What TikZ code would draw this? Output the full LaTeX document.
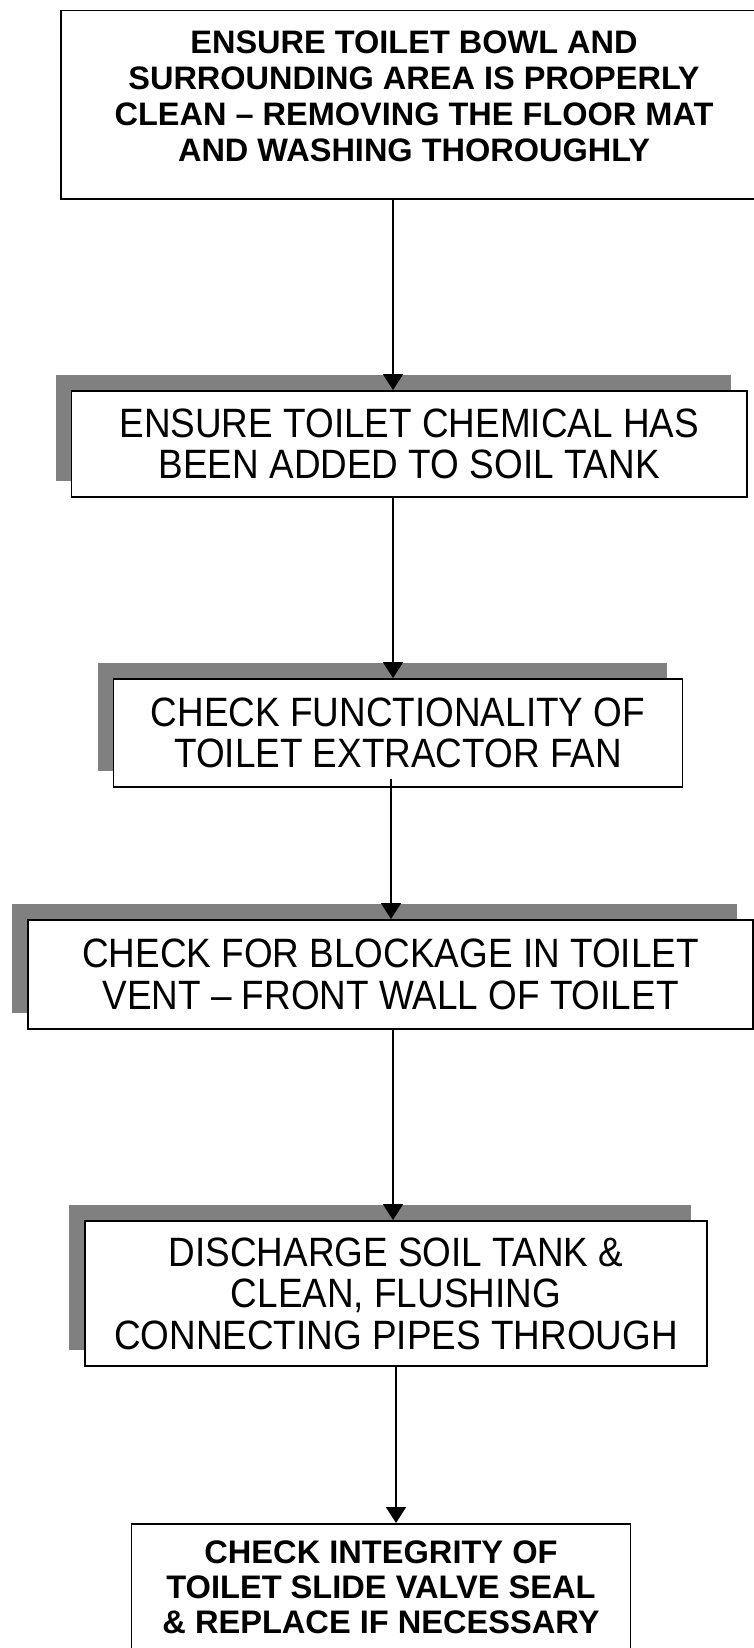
\documentclass[tikz,border=0pt]{standalone}
\usepackage{fontspec}
\setmainfont{Liberation Sans}
\newfontfamily\narrowfont[FakeStretch=0.9,Ligatures=TeX]{Liberation Sans}
\usetikzlibrary{arrows.meta,shadows}

\tikzset{
    stepbox/.style={draw, line width=1.8pt, fill=white, align=center, font=\narrowfont\fontsize{41}{41.5}\selectfont},
    boldbox/.style={stepbox, font=\bfseries\fontsize{32.5}{36}\selectfont},
    shadowbox/.style={general shadow={fill=black!50, shadow xshift=-16pt, shadow yshift=16pt}},
    flow/.style={-{Triangle[length=16pt,width=20pt]}, line width=1.8pt}
}

\begin{document}
\begin{tikzpicture}[x=1pt, y=-1pt]
    \useasboundingbox (0,0) rectangle (754,1648);
    \clip (0,0) rectangle (754,1648);

    \node[boldbox, minimum width=706pt, minimum height=188.5pt] (1) at (414, 104.75) {ENSURE TOILET BOWL AND\\SURROUNDING AREA IS PROPERLY\\CLEAN – REMOVING THE FLOOR MAT\\AND WASHING THOROUGHLY\rule[-18pt]{0pt}{18pt}};
    \node[stepbox, shadowbox, minimum width=675.5pt, minimum height=106pt] (2) at (409.25, 444) {ENSURE TOILET CHEMICAL HAS\\BEEN ADDED TO SOIL TANK};
    \node[stepbox, shadowbox, minimum width=569pt, minimum height=108pt] (3) at (398, 733) {CHECK FUNCTIONALITY OF\\TOILET EXTRACTOR FAN};
    \node[stepbox, shadowbox, minimum width=724.5pt, minimum height=109pt] (4) at (390.5, 974.5) {CHECK FOR BLOCKAGE IN TOILET\\VENT – FRONT WALL OF TOILET};
    \node[stepbox, shadowbox, minimum width=622pt, minimum height=145pt] (5) at (396, 1293.5) {DISCHARGE SOIL TANK \&\\CLEAN, FLUSHING\\CONNECTING PIPES THROUGH};
    \node[boldbox, anchor=north, minimum width=499pt, inner ysep=17pt, font=\bfseries\fontsize{32.6}{35}\selectfont] (6) at (381, 1523) {CHECK INTEGRITY OF\\TOILET SLIDE VALVE SEAL\\\& REPLACE IF NECESSARY};

    \draw[flow] (1.south -| 393,0) -- (2.north -| 393,0);
    \draw[flow] (2.south -| 393,0) -- (3.north -| 393,0);
    \draw[flow] (3.south -| 391,0) ++(0,-9) -- (4.north -| 391,0);
    \draw[flow] (4.south -| 393,0) -- (5.north -| 393,0);
    \draw[flow] (5.south -| 396,0) -- (6.north -| 396,0);
\end{tikzpicture}
\end{document}
